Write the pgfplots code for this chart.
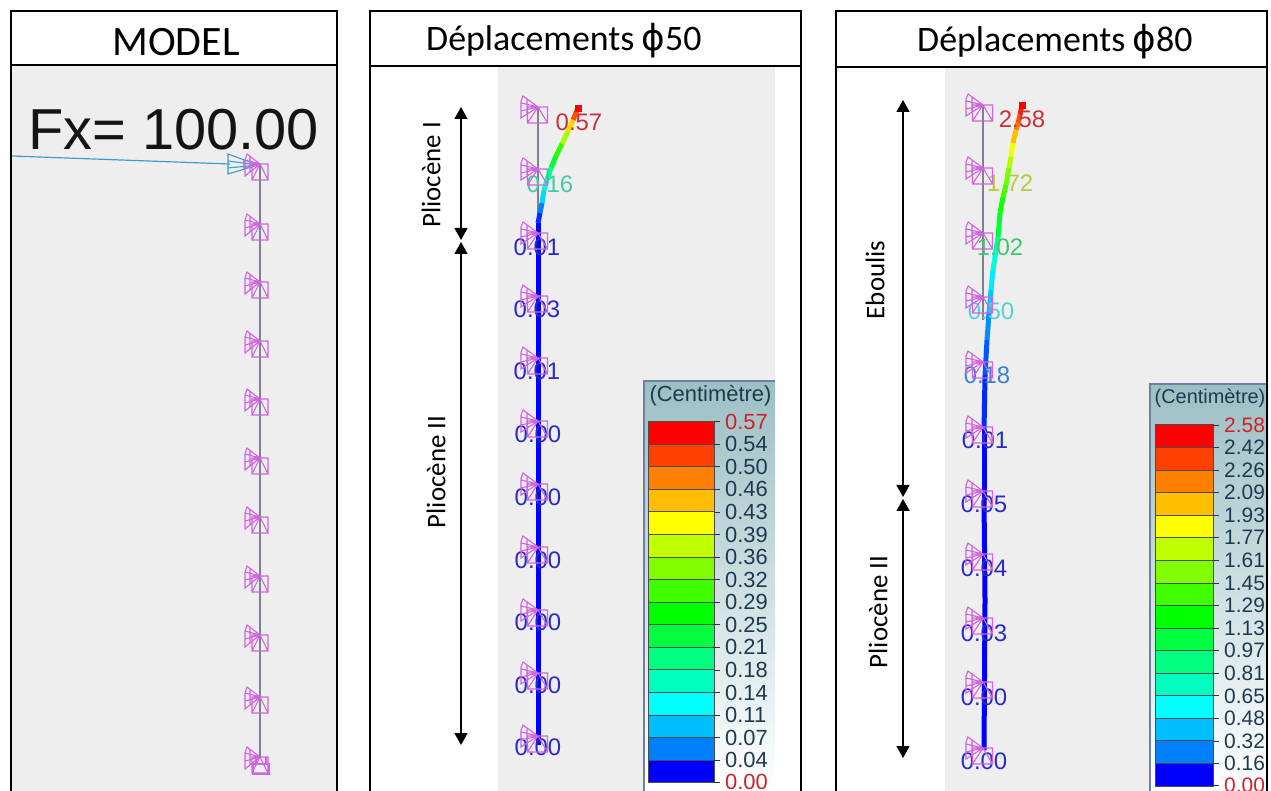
\documentclass[border=0pt]{standalone}
\usepackage{fontspec}
\setmainfont{Liberation Sans}
\newfontfamily\calib{Carlito}
\newfontfamily\phifont{DejaVu Sans}
\usepackage{pgfplots}
\pgfplotsset{compat=1.18}
\usetikzlibrary{arrows.meta}

\definecolor{panelgrey}{HTML}{EEEEEE}
\definecolor{spring}{HTML}{D164DF}
\definecolor{force}{HTML}{3E9CC8}
\definecolor{struct}{HTML}{80808F}
\definecolor{legtxt}{HTML}{1E3A50}
\definecolor{legred}{HTML}{D0202A}
\definecolor{legborder}{HTML}{6F7F9F}
\definecolor{legtop}{HTML}{9CBFC4}
\definecolor{lblred}{HTML}{C8323C}
\definecolor{lblblue}{HTML}{2A2AC8}
\definecolor{lblteal}{HTML}{45CBA5}
\definecolor{lblyel}{HTML}{B4CC3C}
\definecolor{lblgrn}{HTML}{3CC870}
\definecolor{lblcya}{HTML}{55D0D5}
\definecolor{lblazu}{HTML}{3A80D0}
% legend bands, top to bottom
\definecolor{bandA}{RGB}{255,0,0}
\definecolor{bandB}{RGB}{255,64,0}
\definecolor{bandC}{RGB}{255,128,0}
\definecolor{bandD}{RGB}{255,191,0}
\definecolor{bandE}{RGB}{255,255,0}
\definecolor{bandF}{RGB}{191,255,0}
\definecolor{bandG}{RGB}{128,255,0}
\definecolor{bandH}{RGB}{64,255,0}
\definecolor{bandI}{RGB}{0,255,0}
\definecolor{bandJ}{RGB}{0,255,64}
\definecolor{bandK}{RGB}{0,255,128}
\definecolor{bandL}{RGB}{0,255,191}
\definecolor{bandM}{RGB}{0,255,255}
\definecolor{bandN}{RGB}{0,191,255}
\definecolor{bandO}{RGB}{0,128,255}
\definecolor{bandP}{RGB}{0,0,255}

% support symbol, sizes in picture pixels
\pgfdeclareplotmark{support}{%
  \pgfpathrectangle{\pgfpoint{-8bp}{-16bp}}{\pgfpoint{16bp}{16bp}}%
  \pgfpathmoveto{\pgfpoint{0bp}{0bp}}\pgfpathlineto{\pgfpoint{8bp}{-16bp}}%
  \pgfpathmoveto{\pgfpoint{0bp}{0bp}}\pgfpathlineto{\pgfpoint{-8bp}{-16bp}}%
  \pgfpathmoveto{\pgfpoint{0bp}{0bp}}\pgfpathlineto{\pgfpoint{-13bp}{10bp}}%
  \pgfpathlineto{\pgfpoint{-15bp}{4bp}}\pgfpathlineto{\pgfpoint{-15bp}{-12bp}}%
  \pgfpathlineto{\pgfpoint{0bp}{0bp}}%
  \pgfpathmoveto{\pgfpoint{0bp}{0bp}}\pgfpathlineto{\pgfpoint{-15bp}{4bp}}%
  \pgfpathmoveto{\pgfpoint{0bp}{0bp}}\pgfpathlineto{\pgfpoint{-15bp}{-4bp}}%
  \pgfpathmoveto{\pgfpoint{-10bp}{7bp}}\pgfpathlineto{\pgfpoint{-10bp}{-8bp}}%
  \pgfusepathqstroke}
% the same, as it is drawn in the two displacement panels
\pgfdeclareplotmark{supportb}{%
  \pgfpathrectangle{\pgfpoint{-10.5bp}{-16bp}}{\pgfpoint{20bp}{16bp}}%
  \pgfpathmoveto{\pgfpoint{0bp}{0bp}}\pgfpathlineto{\pgfpoint{9.5bp}{-16bp}}%
  \pgfpathmoveto{\pgfpoint{0bp}{0bp}}\pgfpathlineto{\pgfpoint{-10.5bp}{-16bp}}%
  \pgfpathmoveto{\pgfpoint{0bp}{0bp}}\pgfpathlineto{\pgfpoint{-15bp}{11bp}}%
  \pgfpathlineto{\pgfpoint{-17bp}{6bp}}\pgfpathlineto{\pgfpoint{-17bp}{-11bp}}%
  \pgfpathlineto{\pgfpoint{0bp}{0bp}}%
  \pgfpathmoveto{\pgfpoint{0bp}{0bp}}\pgfpathlineto{\pgfpoint{-17bp}{4bp}}%
  \pgfpathmoveto{\pgfpoint{0bp}{0bp}}\pgfpathlineto{\pgfpoint{-17bp}{-4bp}}%
  \pgfpathmoveto{\pgfpoint{-11bp}{8bp}}\pgfpathlineto{\pgfpoint{-11bp}{-7bp}}%
  \pgfusepathqstroke}
\pgfdeclareplotmark{forcehead}{%
  \pgfpathmoveto{\pgfpoint{0bp}{0bp}}\pgfpathlineto{\pgfpoint{-30bp}{11bp}}%
  \pgfpathlineto{\pgfpoint{-30bp}{-9bp}}\pgfpathlineto{\pgfpoint{0bp}{0bp}}%
  \pgfpathmoveto{\pgfpoint{0bp}{0bp}}\pgfpathlineto{\pgfpoint{-30bp}{4bp}}%
  \pgfpathmoveto{\pgfpoint{0bp}{0bp}}\pgfpathlineto{\pgfpoint{-30bp}{-3bp}}%
  \pgfpathmoveto{\pgfpoint{-14bp}{5bp}}\pgfpathlineto{\pgfpoint{-14bp}{-4bp}}%
  \pgfusepathqstroke}
\pgfdeclareplotmark{fixbase}{%
  \pgfpathrectangle{\pgfpoint{-8bp}{-5bp}}{\pgfpoint{16bp}{10bp}}%
  \pgfpathmoveto{\pgfpoint{-5bp}{5bp}}\pgfpathlineto{\pgfpoint{-5bp}{12bp}}%
  \pgfpathmoveto{\pgfpoint{5bp}{5bp}}\pgfpathlineto{\pgfpoint{5bp}{12bp}}%
  \pgfusepathqstroke}

% #1 colour, #2 x0, #3 y0, #4 x1, #5 y1
\newcommand{\rect}[5]{\addplot[fill=#1,draw=none,forget plot] coordinates {(#2,#3) (#4,#3) (#4,#5) (#2,#5)} --cycle;}
\newcommand{\band}[5]{\addplot[fill=#1,draw=black!70,line width=1bp,forget plot] coordinates {(#2,#3) (#4,#3) (#4,#5) (#2,#5)} --cycle;}
% data label
\newcommand{\dlab}[4]{\node[text=#1,font=\fontsize{24}{24}\selectfont,inner sep=0pt] at (axis cs:#2,#3) {#4};}
% legend tick and value: colour, bar edge, y, tick end, text, size
\newcommand{\ltick}[6]{\addplot[legtxt,line width=.8bp,forget plot] coordinates {(#2,#3) (#4,#3)};
  \node[text=#1,font=\fontsize{#6}{#6}\selectfont,inner sep=0pt,anchor=west] at (axis cs:#4+5,#3) {#5};}
\tikzset{layerarrow/.style={{Triangle[length=12bp,width=13bp]}-{Triangle[length=12bp,width=13bp]},black,line width=1.5bp}}

\begin{document}
\begin{tikzpicture}[x=1bp,y=1bp]
\path[use as bounding box,clip] (0,0) rectangle (1271,791);
\begin{axis}[
  at={(0,0)},anchor=south west,
  scale only axis,width=1271bp,height=791bp,
  xmin=0,xmax=1271,ymin=0,ymax=791,y dir=reverse,
  hide axis,
  colormap={disp}{rgb255=(0,0,255) rgb255=(0,128,255) rgb255=(0,255,255) rgb255=(0,255,128) rgb255=(0,255,0) rgb255=(128,255,0) rgb255=(255,255,0) rgb255=(255,128,0) rgb255=(255,0,0)},
  point meta min=0,point meta max=1,
]
% panel backgrounds
\rect{white}{0}{0}{1271}{791}
\rect{panelgrey}{11}{65}{337}{791}
\rect{panelgrey}{498}{66}{775}{791}
\rect{panelgrey}{945}{67}{1268}{791}

% ---- MODEL panel
\addplot[struct,line width=1.3bp] coordinates {(260,164) (260,757)};
\addplot[force,line width=1.2bp] coordinates {(12,156) (230,164)};
\addplot[only marks,mark=forcehead,mark options={draw=force,line width=1.1bp}] coordinates {(258,165)};
\addplot[only marks,mark=support,mark options={draw=spring,line width=1.1bp}] coordinates {
  (260,164) (260,224) (260,282) (260,341) (260,399) (260,458)
  (260,517) (260,576) (260,635) (260,697) (260,757)};
\addplot[only marks,mark=fixbase,mark options={draw=spring,line width=1.1bp}] coordinates {(261,769)};
\node[text=black!92,font=\fontsize{58}{58}\selectfont,inner sep=0pt,anchor=base west] at (axis cs:28,150) {Fx= 100.00};

% ---- phi 50 panel
\addplot[struct,line width=1.3bp] coordinates {(538,107) (538,215)};
\addplot[mesh,point meta=explicit,line width=5bp] table[meta=c] {
x y c
578 108 1.00
573 120 0.85
568 131 0.73
562 144 0.60
556 156 0.50
551 168 0.40
547 180 0.32
544 190 0.26
542 203 0.17
540 213 0.08
538 223 0.01
538 240 0.00
};
\addplot[bandP,line width=5bp] coordinates {(538,235) (538,745)};
\addplot[only marks,mark=square*,mark size=3bp,mark options={fill=red,draw=red}] coordinates {(578,108)};
\addplot[only marks,mark=supportb,mark options={draw=spring,line width=1.1bp}] coordinates {
  (538,107) (538,169) (538,233) (538,296) (538,358) (538,421)
  (538,484) (538,547) (538,610) (538,673) (538,736)};
\dlab{lblred}{579}{122}{0.57}
\dlab{lblteal}{550}{184}{0.16}
\dlab{lblblue}{537}{247}{0.01}
\dlab{lblblue}{537}{309}{0.03}
\dlab{lblblue}{537}{371}{0.01}
\dlab{lblblue}{538}{434}{0.00}
\dlab{lblblue}{538}{497}{0.00}
\dlab{lblblue}{538}{560}{0.00}
\dlab{lblblue}{538}{622}{0.00}
\dlab{lblblue}{538}{685}{0.00}
\dlab{lblblue}{538}{747}{0.00}

% legend phi 50
\shade[top color=legtop,bottom color=white] (axis cs:644,381) rectangle (axis cs:775,791);
\addplot[legborder,line width=1.5bp] coordinates {(644,791) (644,381) (775,381)};
\node[text=legtxt,font=\fontsize{22}{22}\selectfont,inner sep=0pt] at (axis cs:710.5,396) {(Centimètre)};
\band{bandA}{648}{421.7}{714}{444.3}
\band{bandB}{648}{444.3}{714}{466.8}
\band{bandC}{648}{466.8}{714}{489.4}
\band{bandD}{648}{489.4}{714}{512.0}
\band{bandE}{648}{512.0}{714}{534.5}
\band{bandF}{648}{534.5}{714}{557.1}
\band{bandG}{648}{557.1}{714}{579.7}
\band{bandH}{648}{579.7}{714}{602.2}
\band{bandI}{648}{602.2}{714}{624.8}
\band{bandJ}{648}{624.8}{714}{647.4}
\band{bandK}{648}{647.4}{714}{669.9}
\band{bandL}{648}{669.9}{714}{692.5}
\band{bandM}{648}{692.5}{714}{715.1}
\band{bandN}{648}{715.1}{714}{737.6}
\band{bandO}{648}{737.6}{714}{760.2}
\band{bandP}{648}{760.2}{714}{782.8}
\ltick{legred}{714}{421.7}{720}{0.57}{22}
\ltick{legtxt}{714}{444.3}{720}{0.54}{22}
\ltick{legtxt}{714}{466.8}{720}{0.50}{22}
\ltick{legtxt}{714}{489.4}{720}{0.46}{22}
\ltick{legtxt}{714}{512.0}{720}{0.43}{22}
\ltick{legtxt}{714}{534.5}{720}{0.39}{22}
\ltick{legtxt}{714}{557.1}{720}{0.36}{22}
\ltick{legtxt}{714}{579.7}{720}{0.32}{22}
\ltick{legtxt}{714}{602.2}{720}{0.29}{22}
\ltick{legtxt}{714}{624.8}{720}{0.25}{22}
\ltick{legtxt}{714}{647.4}{720}{0.21}{22}
\ltick{legtxt}{714}{669.9}{720}{0.18}{22}
\ltick{legtxt}{714}{692.5}{720}{0.14}{22}
\ltick{legtxt}{714}{715.1}{720}{0.11}{22}
\ltick{legtxt}{714}{737.6}{720}{0.07}{22}
\ltick{legtxt}{714}{760.2}{720}{0.04}{22}
\ltick{legred}{714}{782}{720}{0.00}{22}

% layer arrows and names phi 50
\addplot[layerarrow] coordinates {(461,107) (461,240)};
\addplot[layerarrow] coordinates {(461,242) (461,745)};
\node[rotate=90,font=\calib\fontsize{27}{27}\selectfont,inner sep=0pt] at (axis cs:431,175) {Pliocène I};
\node[rotate=90,font=\calib\fontsize{27}{27}\selectfont,inner sep=0pt] at (axis cs:436,472) {Pliocène II};

% ---- phi 80 panel
\addplot[struct,line width=1.3bp] coordinates {(983,105) (983,320)};
\addplot[mesh,point meta=explicit,line width=5bp] table[meta=c] {
x y c
1022 105 1.00
1020 115 0.94
1018 123 0.90
1016 130 0.85
1013 143 0.78
1011 157 0.70
1009 168 0.65
1006 185 0.58
1003 197 0.54
1000 213 0.50
998 237 0.40
996 250 0.33
993 270 0.25
991 290 0.21
989 313 0.18
987 340 0.10
985 375 0.07
984 430 0.01
984 500 0.00
985 600 0.00
984 750 0.00
};
\addplot[only marks,mark=square*,mark size=3bp,mark options={fill=red,draw=red}] coordinates {(1022,105)};
\addplot[only marks,mark=supportb,mark options={draw=spring,line width=1.1bp}] coordinates {
  (983,105) (983,168) (983,233) (983,297) (983,362) (983,427)
  (983,491) (983,554) (983,618) (983,682) (983,748)};
\dlab{lblred}{1022}{119}{2.58}
\dlab{lblyel}{1010}{183}{1.72}
\dlab{lblgrn}{1000}{247}{1.02}
\dlab{lblcya}{991}{311}{0.50}
\dlab{lblazu}{987}{375}{0.18}
\dlab{lblblue}{985}{440}{0.01}
\dlab{lblblue}{984}{504}{0.05}
\dlab{lblblue}{984}{568}{0.04}
\dlab{lblblue}{984}{633}{0.03}
\dlab{lblblue}{984}{697}{0.00}
\dlab{lblblue}{984}{761}{0.00}

% legend phi 80
\shade[top color=legtop,bottom color=white] (axis cs:1150,384) rectangle (axis cs:1268,791);
\addplot[legborder,line width=1.5bp] coordinates {(1150,791) (1150,384) (1268,384)};
\node[text=legtxt,font=\fontsize{20}{20}\selectfont,inner sep=0pt] at (axis cs:1210,398) {(Centimètre)};
\band{bandA}{1155}{425}{1213}{447.6}
\band{bandB}{1155}{447.6}{1213}{470.1}
\band{bandC}{1155}{470.1}{1213}{492.7}
\band{bandD}{1155}{492.7}{1213}{515.3}
\band{bandE}{1155}{515.3}{1213}{537.8}
\band{bandF}{1155}{537.8}{1213}{560.4}
\band{bandG}{1155}{560.4}{1213}{583.0}
\band{bandH}{1155}{583.0}{1213}{605.5}
\band{bandI}{1155}{605.5}{1213}{628.1}
\band{bandJ}{1155}{628.1}{1213}{650.7}
\band{bandK}{1155}{650.7}{1213}{673.2}
\band{bandL}{1155}{673.2}{1213}{695.8}
\band{bandM}{1155}{695.8}{1213}{718.4}
\band{bandN}{1155}{718.4}{1213}{740.9}
\band{bandO}{1155}{740.9}{1213}{763.5}
\band{bandP}{1155}{763.5}{1213}{786.1}
\ltick{legred}{1213}{425}{1219}{2.58}{21}
\ltick{legtxt}{1213}{447.6}{1219}{2.42}{21}
\ltick{legtxt}{1213}{470.1}{1219}{2.26}{21}
\ltick{legtxt}{1213}{492.7}{1219}{2.09}{21}
\ltick{legtxt}{1213}{515.3}{1219}{1.93}{21}
\ltick{legtxt}{1213}{537.8}{1219}{1.77}{21}
\ltick{legtxt}{1213}{560.4}{1219}{1.61}{21}
\ltick{legtxt}{1213}{583.0}{1219}{1.45}{21}
\ltick{legtxt}{1213}{605.5}{1219}{1.29}{21}
\ltick{legtxt}{1213}{628.1}{1219}{1.13}{21}
\ltick{legtxt}{1213}{650.7}{1219}{0.97}{21}
\ltick{legtxt}{1213}{673.2}{1219}{0.81}{21}
\ltick{legtxt}{1213}{695.8}{1219}{0.65}{21}
\ltick{legtxt}{1213}{718.4}{1219}{0.48}{21}
\ltick{legtxt}{1213}{740.9}{1219}{0.32}{21}
\ltick{legtxt}{1213}{763.5}{1219}{0.16}{21}
\ltick{legred}{1213}{785}{1219}{0.00}{21}

% layer arrows and names phi 80
\addplot[layerarrow] coordinates {(903,100) (903,497)};
\addplot[layerarrow] coordinates {(903,499) (903,758)};
\node[rotate=90,font=\calib\fontsize{27}{27}\selectfont,inner sep=0pt] at (axis cs:875,280) {Eboulis};
\node[rotate=90,font=\calib\fontsize{27}{27}\selectfont,inner sep=0pt] at (axis cs:878,612) {Pliocène II};

% ---- frames and headers
\addplot[black,line width=2bp] coordinates {(11,791) (11,11) (337,11) (337,791)};
\addplot[black,line width=2bp] coordinates {(11,65) (337,65)};
\addplot[black,line width=2bp] coordinates {(370,791) (370,11) (801,11) (801,791)};
\addplot[black,line width=2bp] coordinates {(370,66) (801,66)};
\addplot[black,line width=2bp] coordinates {(836,791) (836,11) (1267,11) (1267,791)};
\addplot[black,line width=2bp] coordinates {(836,67) (1267,67)};
\node[font=\calib\fontsize{42}{42}\selectfont,inner sep=0pt,anchor=base] at (axis cs:176,56) {MODEL};
\node[font=\calib\fontsize{36}{36}\selectfont,inner sep=0pt,anchor=base west] at (axis cs:426,51) {Déplacements\hspace{7bp}{\phifont ϕ}50};
\node[font=\calib\fontsize{36}{36}\selectfont,inner sep=0pt,anchor=base west] at (axis cs:917,52) {Déplacements\hspace{7bp}{\phifont ϕ}80};
\end{axis}
\end{tikzpicture}
\end{document}
